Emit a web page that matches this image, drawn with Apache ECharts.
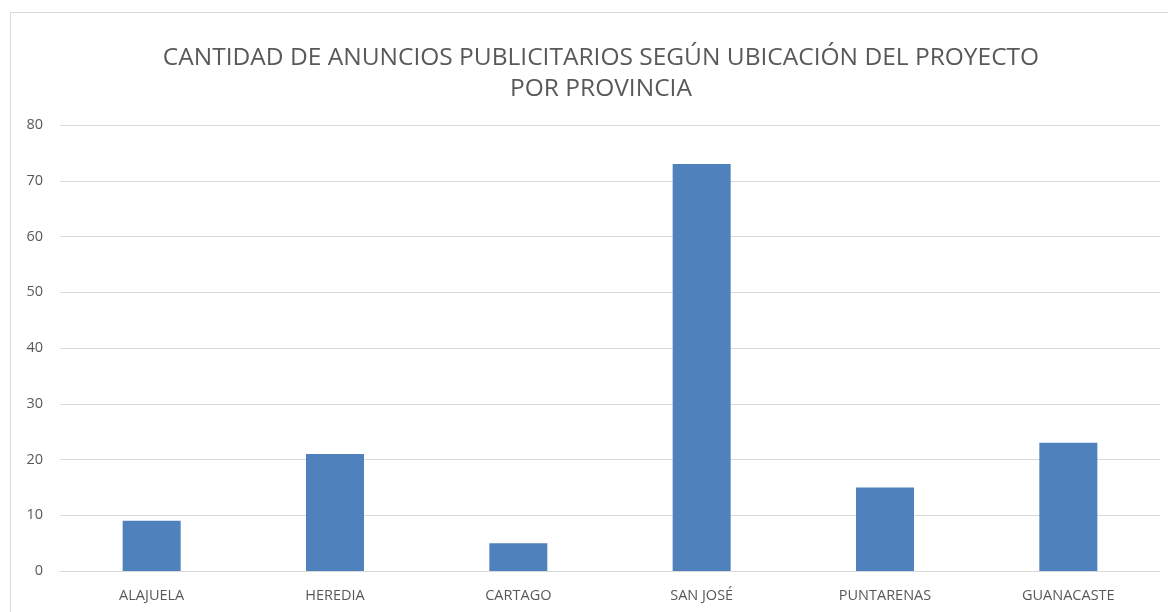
<!DOCTYPE html>
<html>
<head>
<meta charset="utf-8">
<script src="https://cdn.jsdelivr.net/npm/echarts@6/dist/echarts.min.js"></script>
<style>
  html, body { margin: 0; padding: 0; background: #fff; }
  #chart { width: 1168px; height: 612px; }
</style>
</head>
<body>
<div id="chart"></div>
<script>
// datos
const provincias = ['ALAJUELA', 'HEREDIA', 'CARTAGO', 'SAN JOSÉ', 'PUNTARENAS', 'GUANACASTE']
const anuncios = [9, 21, 5, 73, 15, 23]
const tituloLineas = ['CANTIDAD DE ANUNCIOS PUBLICITARIOS SEGÚN UBICACIÓN DEL PROYECTO', 'POR PROVINCIA']

const fontFamily = '"Open Sans", sans-serif'

const myChart = echarts.init(document.getElementById('chart'))

const options = {
  animation: false,
  backgroundColor: '#fff',
  textStyle: { fontFamily: fontFamily },
  title: {
    text: tituloLineas.join('\n'),
    left: 596,
    textAlign: 'center',
    top: 38,
    textStyle: {
      color: '#595959',
      fontSize: 24.5,
      fontWeight: 'normal',
      fontFamily: fontFamily,
      lineHeight: 31
    }
  },
  graphic: [
    {
      type: 'rect',
      shape: { x: 10.5, y: 12.5, width: 1170, height: 620 },
      style: { fill: 'none', stroke: '#d9d9d9', lineWidth: 1 },
      silent: true
    }
  ],
  grid: {
    top: 125,
    left: 60,
    right: 8,
    bottom: 41
  },
  xAxis: {
    type: 'category',
    data: provincias,
    axisTick: { show: false },
    axisLine: { lineStyle: { color: '#d9d9d9' } },
    axisLabel: {
      color: '#595959',
      fontSize: 14.5,
      margin: 17,
      fontFamily: fontFamily
    }
  },
  yAxis: {
    type: 'value',
    min: 0,
    max: 80,
    interval: 10,
    axisLine: { show: false },
    axisTick: { show: false },
    axisLabel: {
      color: '#595959',
      fontSize: 14.5,
      margin: 17,
      fontFamily: fontFamily
    },
    splitLine: { lineStyle: { color: '#d9d9d9' } }
  },
  series: [
    {
      name: 'Anuncios',
      type: 'bar',
      data: anuncios,
      barWidth: 58,
      itemStyle: { color: '#4f81bd' }
    }
  ]
}

myChart.setOption(options)
</script>
</body>
</html>
